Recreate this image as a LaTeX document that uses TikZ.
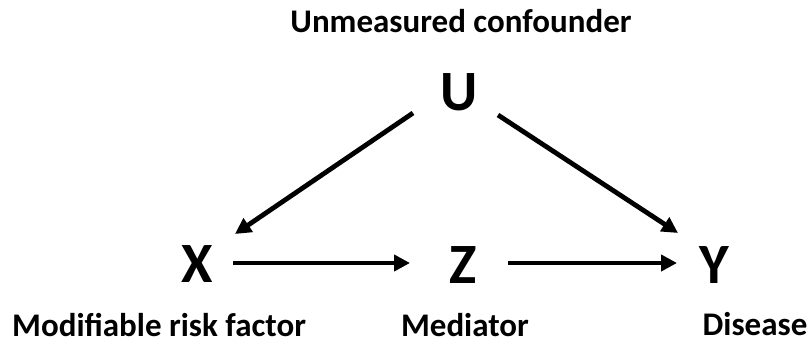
\documentclass[tikz,border=0pt]{standalone}
\usepackage{fontspec}
\setmainfont{Carlito}
\usepackage{tikz}
\usetikzlibrary{arrows.meta}
\tikzset{
	var/.style={inner sep=0pt,font=\fontsize{57}{57}\selectfont\bfseries},
	desc/.style={inner sep=0pt,anchor=base,font=\fontsize{33}{33}\selectfont\bfseries},
	arr/.style={draw=black,line width=4.8pt,-{Triangle[length=16pt,width=16pt]}},
}

\begin{document}
\begin{tikzpicture}[x=1pt,y=1pt]
	\useasboundingbox (0,0) rectangle (810,343);
	% variables
	\node[var] (U) at (459,251) {U};
	\node[var] (X) at (197,79) {X};
	\node[var] (Z) at (463,78) {Z};
	\node[var] (Y) at (714,78) {Y};
	% descriptions
	\node[desc] (conf) at (461,310) {Unmeasured confounder};
	\node[desc,anchor=base west] (risk) at (12,7) {Modifiable risk factor};
	\node[desc] (med) at (465,7) {Mediator};
	\node[desc] (dis) at (755,8) {Disease};
	% arrows
	\draw[arr] ([shift={(-46,-21)}]U.center) -- ([shift={(38,30)}]X.center);
	\draw[arr] ([shift={(39,-23)}]U.center) -- ([shift={(-36,32)}]Y.center);
	\draw[arr] ([shift={(36,1)}]X.center) -- ([shift={(-53,2)}]Z.center);
	\draw[arr] ([shift={(45,2)}]Z.center) -- ([shift={(-37,2)}]Y.center);
\end{tikzpicture}
\end{document}
